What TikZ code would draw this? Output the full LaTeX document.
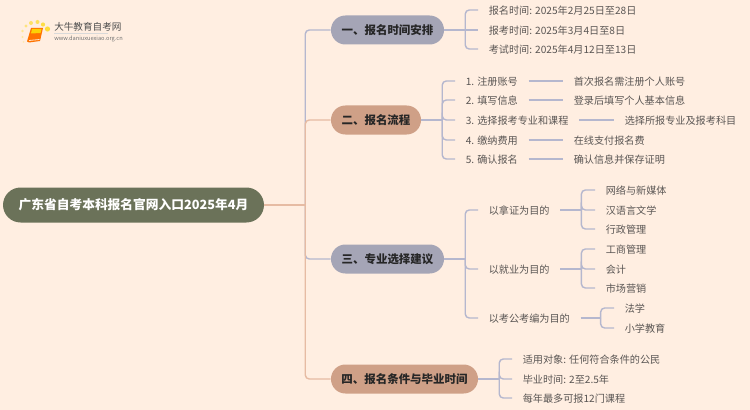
\documentclass[tikz,border=0pt]{standalone}
\usepackage{fontspec}
\setmainfont{Noto Sans CJK SC}
\definecolor{bgc}{HTML}{FFEEE1}
\definecolor{rootc}{HTML}{6B7259}
\definecolor{lavc}{HTML}{A5A5B6}
\definecolor{orc}{HTML}{CFA087}
\definecolor{linel}{HTML}{B5B7CE}
\definecolor{lineo}{HTML}{E6BBA3}
\definecolor{leaftxt}{HTML}{5A5654}
\tikzset{
  x=0.75pt,y=-0.75pt,
  pill/.style={rectangle,rounded corners=10.8pt,minimum height=21.75pt,inner sep=0pt,font=\fontsize{8.6pt}{10pt}\selectfont\bfseries,text=black!85},
  rootpill/.style={pill,rounded corners=13.2pt,minimum height=26.25pt,fill=rootc,text=white,font=\fontsize{9.55pt}{11pt}\selectfont\bfseries},
  leaf/.style={rectangle,anchor=west,inner xsep=7.9pt,inner ysep=0pt,text height=7.9pt,text depth=1.5pt,font=\fontsize{7.6pt}{9pt}\selectfont,text=leaftxt},
  conl/.style={draw=linel,line width=1.05pt,rounded corners=3pt},
  cono/.style={draw=lineo,line width=1.05pt,rounded corners=3pt}
}
\begin{document}
\begin{tikzpicture}
\useasboundingbox (0,0) rectangle (750,410);
\fill[bgc] (0,0) rectangle (750,410);
% logo
\fill[yellow!75!orange,opacity=.75] (47.5,29) circle[radius=2.6];
\fill[yellow!75!orange,opacity=.7] (43,24.5) circle[radius=2.1];
\fill[yellow!75!orange,opacity=.6] (37.5,22) circle[radius=2];
\fill[yellow!75!orange,opacity=.55] (31,23) circle[radius=2];
\fill[yellow!75!orange,opacity=.45] (26,26) circle[radius=1.6];
\fill[yellow!75!orange,opacity=.35] (22.5,31) circle[radius=1.4];
\fill[yellow!75!orange,opacity=.3] (22.5,37) circle[radius=1.2];
\fill[yellow!75!orange,opacity=.2] (23.5,42) circle[radius=1];
\fill[orange!90!red] (31,28) -- (43,28) -- (40,41) -- (29,42.5) -- (27,41.5) -- cycle;
\fill[yellow!70!orange] (32,29) -- (41.5,29) -- (40.5,33) -- (31,33.5) -- cycle;
\draw[white!80!orange,line width=.6pt] (29,40.5) -- (39.5,39.5);
\node[inner sep=0pt,anchor=west,font=\fontsize{7.2pt}{9pt}\selectfont,text=black!70] (logot) at (54,27) {大牛教育自考网};
\node[inner sep=0pt,anchor=west,font=\fontsize{4.25pt}{5pt}\selectfont,text=black!55] (logou) at (54,39) {www.daniuxuexiao.org.cn};
\draw[black!15,line width=.4pt] (54,33.3) -- (108,33.3);
% root and branches
\node[rootpill,minimum width=195.75pt] (root) at (133.5,205) {广东省自考本科报名官网入口2025年4月};
\node[pill,fill=lavc,minimum width=84.75pt] (b1) at (387.5,30) {一、报名时间安排};
\node[pill,fill=orc,minimum width=67.5pt] (b2) at (376,120) {二、报名流程};
\node[pill,fill=lavc,minimum width=84.75pt] (b3) at (387.5,259) {三、专业选择建议};
\node[pill,fill=orc,minimum width=110.25pt] (b4) at (404.5,379) {四、报名条件与毕业时间};
% level 2
\node[leaf] (a1) at (478,10) {报名时间: 2025年2月25日至28日};
\node[leaf] (a2) at (478,30) {报考时间: 2025年3月4日至8日};
\node[leaf] (a3) at (478,49) {考试时间: 2025年4月12日至13日};
\node[leaf] (c1) at (455,81) {1. 注册账号};
\node[leaf] (c2) at (455,100) {2. 填写信息};
\node[leaf] (c3) at (455,120) {3. 选择报考专业和课程};
\node[leaf] (c4) at (455,140) {4. 缴纳费用};
\node[leaf] (c5) at (455,159) {5. 确认报名};
\node[leaf] (d1) at (563,81) {首次报名需注册个人账号};
\node[leaf] (d2) at (563,100) {登录后填写个人基本信息};
\node[leaf] (d3) at (614,120) {选择所报专业及报考科目};
\node[leaf] (d4) at (563,140) {在线支付报名费};
\node[leaf] (d5) at (563,159) {确认信息并保存证明};
\node[leaf] (e1) at (478,210) {以拿证为目的};
\node[leaf] (e2) at (478,269) {以就业为目的};
\node[leaf] (e3) at (478,318) {以考公考编为目的};
\node[leaf] (f1) at (595,190) {网络与新媒体};
\node[leaf] (f2) at (595,210) {汉语言文学};
\node[leaf] (f3) at (595,229) {行政管理};
\node[leaf] (g1) at (595,249) {工商管理};
\node[leaf] (g2) at (595,269) {会计};
\node[leaf] (g3) at (595,288) {市场营销};
\node[leaf] (h1) at (614,308) {法学};
\node[leaf] (h2) at (614,328) {小学教育};
\node[leaf] (k1) at (512,359) {适用对象: 任何符合条件的公民};
\node[leaf] (k2) at (512,379) {毕业时间: 2至2.5年};
\node[leaf] (k3) at (512,398) {每年最多可报12门课程};
% junction points
\coordinate (jr) at ([xshift=30.75pt]root.east);
\coordinate (jb1) at ([xshift=15.75pt]b1.east);
\coordinate (jb2) at ([xshift=15.75pt]b2.east);
\coordinate (jb3) at ([xshift=15.75pt]b3.east);
\coordinate (jb4) at ([xshift=15.75pt]b4.east);
\coordinate (je1) at ([xshift=15.75pt]e1.east);
\coordinate (je2) at ([xshift=15.75pt]e2.east);
\coordinate (je3) at ([xshift=15pt]e3.east);
% trunk connectors
\draw[conl] (jr) |- (b1.west);
\draw[conl] (jr) |- (b3.west);
\draw[cono] (jr) |- (b2.west);
\draw[cono] (jr) |- (b4.west);
\draw[cono] (root.east) -- (jr);
% level 2 connectors
\draw[conl] (b1.east) -- (a2.west);
\draw[conl] (jb1) |- (a1.west);
\draw[conl] (jb1) |- (a3.west);
\draw[conl] (b2.east) -- (jb2);
\foreach \n in {c1,c2,c3,c4,c5}{\draw[conl] (jb2) |- (\n.west);}
\foreach \p/\q in {c1/d1,c2/d2,c3/d3,c4/d4,c5/d5}{\draw[conl] (\p.east) -- (\q.west);}
\draw[conl] (b3.east) -- (jb3);
\foreach \n in {e1,e2,e3}{\draw[conl] (jb3) |- (\n.west);}
\draw[conl] (e1.east) -- (je1);
\foreach \n in {f1,f2,f3}{\draw[conl] (je1) |- (\n.west);}
\draw[conl] (e2.east) -- (je2);
\foreach \n in {g1,g2,g3}{\draw[conl] (je2) |- (\n.west);}
\draw[conl] (e3.east) -- (je3);
\foreach \n in {h1,h2}{\draw[conl] (je3) |- (\n.west);}
\draw[conl] (b4.east) -- (jb4);
\foreach \n in {k1,k2,k3}{\draw[conl] (jb4) |- (\n.west);}
\end{tikzpicture}
\end{document}
